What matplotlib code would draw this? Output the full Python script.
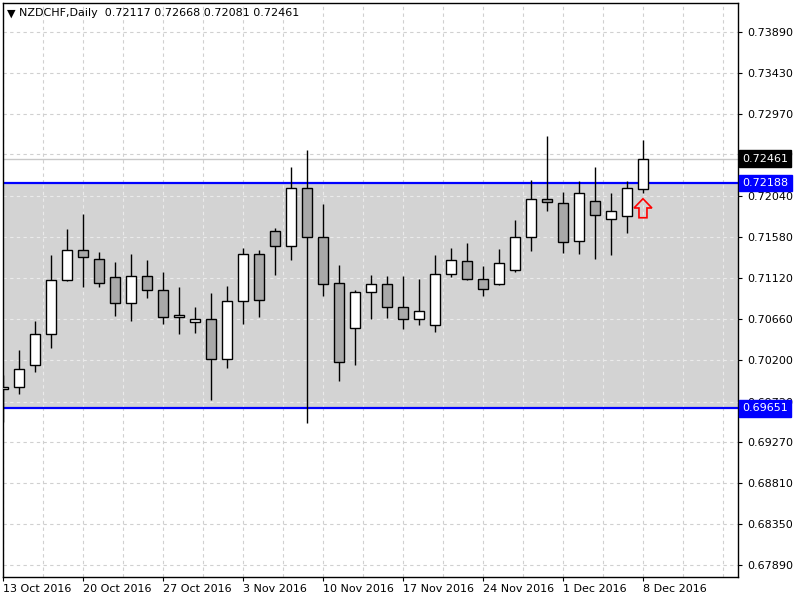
import numpy as np
import pandas as pd
import matplotlib
matplotlib.use("Agg")
import matplotlib.pyplot as plt
from matplotlib.patches import Polygon
from matplotlib.transforms import blended_transform_factory

# daily NZDCHF candles, 13 Oct 2016 .. 8 Dec 2016
dates = pd.bdate_range("2016-10-13", "2016-12-08")

opens = [0.69874, 0.69888, 0.70135, 0.70484, 0.71092, 0.71430, 0.71329, 0.71126, 0.70833, 0.71137,
         0.70980, 0.70676, 0.70619, 0.70653, 0.70210, 0.70856, 0.71385, 0.71644, 0.71475, 0.72128,
         0.71577, 0.71059, 0.70552, 0.70957, 0.71047, 0.70788, 0.70653, 0.70586, 0.71160, 0.71306,
         0.71104, 0.71047, 0.71205, 0.71577, 0.72004, 0.71959, 0.71532, 0.71982, 0.71779, 0.71813,
         0.72117]
highs = [0.70026, 0.70308, 0.70634, 0.71377, 0.71670, 0.71839, 0.71411, 0.71298, 0.71389, 0.71321,
         0.71186, 0.71017, 0.70792, 0.70949, 0.71028, 0.71456, 0.71434, 0.71681, 0.72368, 0.72560,
         0.71952, 0.71265, 0.70980, 0.71152, 0.71137, 0.71137, 0.71104, 0.71377, 0.71456, 0.71512,
         0.71250, 0.71441, 0.71768, 0.72218, 0.72717, 0.72087, 0.72211, 0.72368, 0.72075, 0.72211,
         0.72668]
lows = [0.69497, 0.69809, 0.70063, 0.70333, 0.71081, 0.71020, 0.71020, 0.70694, 0.70637, 0.70896,
        0.70600, 0.70491, 0.70502, 0.69748, 0.70108, 0.70604, 0.70683, 0.71155, 0.71324, 0.69489,
        0.70921, 0.69962, 0.70142, 0.70660, 0.70671, 0.70547, 0.70592, 0.70514, 0.71126, 0.71092,
        0.70921, 0.71039, 0.71189, 0.71426, 0.71876, 0.71403, 0.71392, 0.71336, 0.71381, 0.71628,
        0.72081]
closes = [0.69886, 0.70090, 0.70484, 0.71096, 0.71430, 0.71351, 0.71059, 0.70833, 0.71137, 0.70980,
          0.70676, 0.70702, 0.70653, 0.70203, 0.70856, 0.71385, 0.70867, 0.71475, 0.72128, 0.71577,
          0.71047, 0.70169, 0.70957, 0.71047, 0.70788, 0.70653, 0.70743, 0.71160, 0.71318, 0.71104,
          0.70991, 0.71284, 0.71577, 0.72004, 0.71971, 0.71520, 0.72072, 0.71824, 0.71869, 0.72128,
          0.72461]

resistance = 0.72188
support = 0.69651
signal_date = "2016-12-08"
signal_price = 0.72011

tick_dates = ["2016-10-13", "2016-10-20", "2016-10-27", "2016-11-03", "2016-11-10",
              "2016-11-17", "2016-11-24", "2016-12-01", "2016-12-08"]
tick_labels = ["13 Oct 2016", "20 Oct 2016", "27 Oct 2016", "3 Nov 2016", "10 Nov 2016",
               "17 Nov 2016", "24 Nov 2016", "1 Dec 2016", "8 Dec 2016"]
price_ticks = [0.73890, 0.73430, 0.72970, 0.72510, 0.72040, 0.71580, 0.71120,
               0.70660, 0.70200, 0.69720, 0.69270, 0.68810, 0.68350, 0.67890]

plt.rcParams["font.family"] = "DejaVu Sans"
plt.rcParams["font.size"] = 8

fig = plt.figure(figsize=(8, 6), dpi=100)
ax = fig.add_axes([3 / 800, 23 / 600, 735 / 800, 574 / 600])

o = np.array(opens); h = np.array(highs); l = np.array(lows); c = np.array(closes)
x = np.arange(len(dates))

ax.set_xlim(0, 45.94)
ax.set_ylim(0.67752, 0.74215)
y0, y1 = ax.get_ylim()

# support/resistance zone
ax.axhspan(support, resistance, color="#d3d3d3", zorder=0, lw=0)

# grid: darker dashes on white, lighter dashes inside the gray zone
dash = (0, (3, 3))
for gx in np.arange(0, 46, 2.5):
    ax.plot([gx, gx], [y0, support], color="#d0d0d0", lw=0.8, ls=dash, zorder=1)
    ax.plot([gx, gx], [resistance, y1], color="#d0d0d0", lw=0.8, ls=dash, zorder=1)
    ax.plot([gx, gx], [support, resistance], color="#ebebeb", lw=0.8, ls=dash, zorder=1)
for p in price_ticks:
    col = "#ebebeb" if support < p < resistance else "#d0d0d0"
    ax.axhline(p, color=col, lw=0.8, ls=dash, zorder=1)

# bid line
ax.axhline(c[-1], color="#c8c8c8", lw=1.0, zorder=1)

ax.axhline(resistance, color="#0000ff", lw=1.6, zorder=2)
ax.axhline(support, color="#0000ff", lw=1.6, zorder=2)

# candles
up = c >= o
ax.vlines(x, l, h, color="black", lw=1.0, zorder=3)
ax.bar(x, np.abs(c - o), bottom=np.minimum(o, c), width=0.625,
       color=np.where(up, "white", "#a9a9a9"), edgecolor="black", lw=1.0, zorder=4)

# signal arrow
ai = dates.get_loc(pd.Timestamp(signal_date))
tip = signal_price
arrow = [(ai, tip), (ai + 0.56, tip - 0.00104), (ai + 0.25, tip - 0.00104),
         (ai + 0.25, tip - 0.00214), (ai - 0.25, tip - 0.00214),
         (ai - 0.25, tip - 0.00104), (ai - 0.56, tip - 0.00104)]
ax.add_patch(Polygon(arrow, closed=True, fill=False, edgecolor="#ff0000", lw=1.2, zorder=5))

# axes styling
for s in ax.spines.values():
    s.set_color("black")
    s.set_linewidth(1.0)
ax.yaxis.tick_right()
ax.set_yticks(price_ticks)
ax.set_yticklabels(["%.5f" % p for p in price_ticks])
ax.tick_params(axis="y", length=3, pad=3.5, labelsize=8, colors="black")

xt = dates.get_indexer(pd.to_datetime(tick_dates))
ax.set_xticks(xt)
ax.set_xticklabels(tick_labels, ha="left")
ax.tick_params(axis="x", length=3, pad=2, labelsize=8)

# price labels on the scale
tr = blended_transform_factory(ax.transAxes, ax.transData)
for val, bg in [(c[-1], "black"), (resistance, "#0000ff"), (support, "#0000ff")]:
    ax.text(1.0055, val, "%.5f" % val, transform=tr, ha="left", va="center", color="white",
            fontsize=8, clip_on=False, zorder=10,
            bbox=dict(boxstyle="square,pad=0.3", fc=bg, ec=bg))

# header
ax.text(0.005, 0.982, "\u25bc", transform=ax.transAxes, fontsize=8, va="center", ha="left")
ax.text(0.022, 0.982, "NZDCHF,Daily  %.5f %.5f %.5f %.5f" % (o[-1], h[-1], l[-1], c[-1]),
        transform=ax.transAxes, fontsize=8, va="center", ha="left")

fig.savefig("out.png", dpi=100)
